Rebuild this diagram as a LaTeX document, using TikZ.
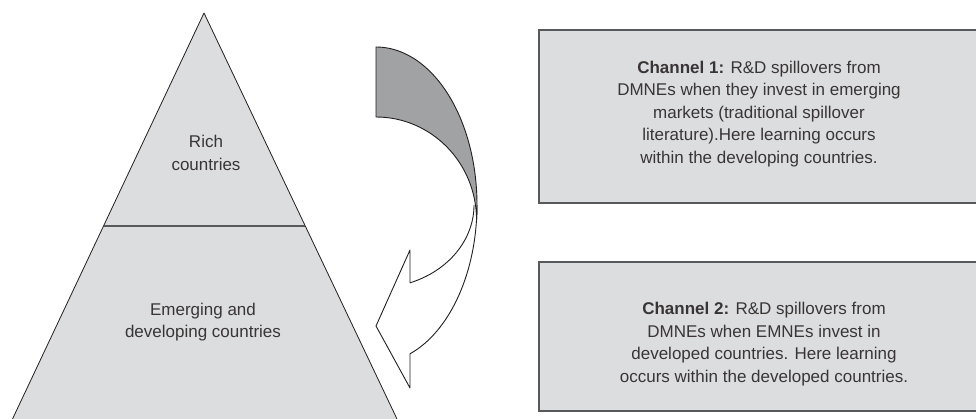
\documentclass[tikz,border=0pt]{standalone}
\usepackage{fontspec}
\setmainfont{Liberation Sans}
\usetikzlibrary{positioning,calc}
\definecolor{pyrfill}{HTML}{DCDDDE}
\definecolor{boxline}{HTML}{58595B}
\definecolor{arrgray}{HTML}{A1A2A4}
\definecolor{inkline}{HTML}{231F20}
\tikzset{
  chbox/.style={draw=boxline, line width=2pt, fill=pyrfill, anchor=north west, minimum width=442pt, inner sep=0pt},
  chtext/.style={align=center, font=\fontsize{17}{22.5}\selectfont, text=inkline!90},
  pyrtext/.style={align=center, font=\fontsize{17}{22.5}\selectfont, text=inkline!90},
  curvarrow/.style={draw=inkline, line width=0.9pt, line join=round},
}

\begin{document}
\begin{tikzpicture}[x=1pt, y=-1pt]
  \useasboundingbox (0,0) rectangle (976,419);
  % pyramid
  \coordinate (apex) at (204,13);
  \coordinate (bl) at (12.5,419);
  \coordinate (br) at (397,419);
  \fill[pyrfill] (apex) -- (bl) -- (br) -- cycle;
  \draw[inkline, line width=0.8pt, line join=round] (bl) -- (apex) -- (br);
  \draw[boxline, line width=1.2pt] ($(apex)!0.5246!(bl)$) coordinate (divl) -- ($(apex)!0.5246!(br)$) coordinate (divr);
  \node[pyrtext] (rich) at (206,153) {Rich\\countries};
  \node[pyrtext] (emerg) at (203,322) {Emerging and\\developing countries};

  % curved arrow, white front then grey back
  \draw[curvarrow, fill=white] (474,205) arc[start angle=0, end angle=69.7, x radius=98, y radius=83] coordinate (neckin)
    -- (410,250) -- (376,326) coordinate (tip) -- (410,388) -- (410,353.8) coordinate (neckout)
    arc[start angle=70.3, end angle=0, x radius=101, y radius=158];
  \draw[curvarrow, fill=arrgray] (376,47) coordinate (tailtop)
    arc[start angle=-90, end angle=5.45, x radius=101, y radius=158]
    arc[start angle=0, end angle=-90, x radius=100.5, y radius=103] coordinate (tailbot) -- cycle;

  % channels
  \node[chbox, minimum height=173pt] (ch1box) at (538,29) {};
  \node[chbox, minimum height=149pt] (ch2box) at (538,261) {};
  \node[chtext] (ch1) at ([xshift=-1pt, yshift=2.5pt]ch1box.center)
    {\textbf{Channel 1:} R\&D spillovers from\\DMNEs when they invest in emerging\\markets (traditional spillover\\literature).Here learning occurs\\within the developing countries.};
  \node[chtext] (ch2) at ([xshift=4pt, yshift=-7.5pt]ch2box.center)
    {\textbf{Channel 2:} R\&D spillovers from\\DMNEs when EMNEs invest in\\developed countries. Here learning\\occurs within the developed countries.};
\end{tikzpicture}
\end{document}
